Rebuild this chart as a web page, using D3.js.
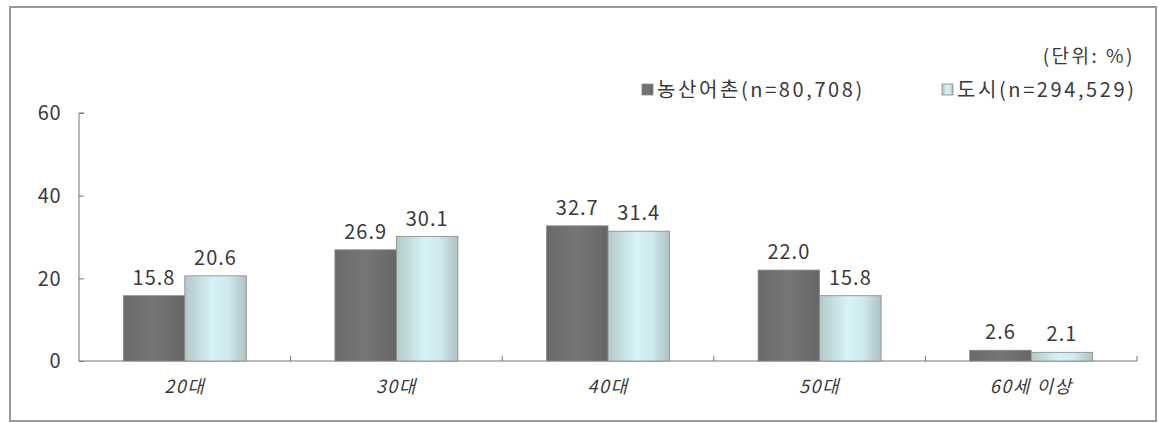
<!DOCTYPE html>
<html><head><meta charset="utf-8">
<script src="https://cdn.jsdelivr.net/npm/d3@7"></script>
<style>body{margin:0;background:#fff}text{font-family:"Noto Sans CJK KR","Noto Sans",sans-serif}</style>
</head><body><svg id="c" width="1159" height="423"></svg>
<script>
const categories = ["20대","30대","40대","50대","60세 이상"];
const rural = [15.8,26.9,32.7,22.0,2.6];
const urban = [20.6,30.1,31.4,15.8,2.1];
const seriesNames = ["농산어촌(n=80,708)","도시(n=294,529)"];
const yTicks = [0,20,40,60];

const svg = d3.select("#c");
const defs = svg.append("defs");
const g1 = defs.append("linearGradient").attr("id","gl");
[[0,"#b4c8c8"],[0.45,"#d6f3f8"],[0.7,"#cfeaef"],[1,"#aec2c2"]].forEach(s=>g1.append("stop").attr("offset",s[0]).attr("stop-color",s[1]));
const g2 = defs.append("linearGradient").attr("id","gd");
[[0,"#6a6a6a"],[0.5,"#767676"],[1,"#666"]].forEach(s=>g2.append("stop").attr("offset",s[0]).attr("stop-color",s[1]));

svg.append("rect").attr("x",10).attr("y",7).attr("width",1146).attr("height",414)
  .attr("fill","none").attr("stroke","#999").attr("stroke-width",2);

const x0 = 79, x1 = 1137, yb = 361, yt = 113;
const x = d3.scaleBand().domain(categories).range([x0,x1]).paddingInner(0).paddingOuter(0);
const y = d3.scaleLinear().domain([0,60]).range([yb,yt]);
const bw = 61.5;
const tc = "#3a3a3a";

// axes
const ya = svg.append("g").attr("transform",`translate(${x0},0)`)
  .call(d3.axisRight(y).tickValues(yTicks).tickSize(5).tickFormat(""));
ya.select(".domain").attr("stroke","#777").attr("d",`M5,${yt}H0V${yb}`);
ya.selectAll("line").attr("stroke","#777");
svg.append("g").selectAll("text").data(yTicks).join("text")
  .attr("x",61).attr("y",d=>y(d)).attr("dy","0.36em").attr("text-anchor","end")
  .attr("font-size",20).attr("letter-spacing",0.5).attr("fill",tc).text(d=>d);

const xa = svg.append("g").attr("transform",`translate(0,${yb})`)
  .call(d3.axisTop(x).tickSize(0).tickFormat(""));
xa.select(".domain").attr("stroke","#777").attr("d",`M${x0},0H${x1}V-5`);
svg.append("g").selectAll("line").data(categories.slice(1)).join("line")
  .attr("x1",d=>x(d)).attr("x2",d=>x(d)).attr("y1",yb).attr("y2",yb-5).attr("stroke","#777");

const grp = svg.append("g");
categories.forEach((c,i)=>{
  const cx = x(c)+x.bandwidth()/2;
  [[rural[i],"url(#gd)",cx-bw],[urban[i],"url(#gl)",cx]].forEach(([v,f,bx])=>{
    grp.append("rect").attr("x",bx).attr("y",y(v)).attr("width",bw).attr("height",yb-y(v))
      .attr("fill",f).attr("stroke","#888").attr("stroke-width",0.8);
    grp.append("text").attr("x",bx+bw/2).attr("y",y(v)-11).attr("text-anchor","middle")
      .attr("font-size",20).attr("letter-spacing",1).attr("fill",tc).text(v.toFixed(1));
  });
  grp.append("text").attr("x",cx).attr("y",393).attr("text-anchor","middle")
    .attr("font-size",18).attr("letter-spacing",1.5).attr("font-style","italic").attr("fill",tc).text(c);
});

// legend
svg.append("text").attr("x",1135).attr("y",63).attr("text-anchor","end")
  .attr("font-size",19).attr("letter-spacing",2.5).attr("fill",tc).text("(단위: %)");
const lg = [[642,"url(#gd)"],[942,"url(#gl)"]];
lg.forEach(([lx,f],i)=>{
  svg.append("rect").attr("x",lx).attr("y",84).attr("width",11).attr("height",11)
    .attr("fill",f).attr("stroke","#888").attr("stroke-width",0.8);
  svg.append("text").attr("x",lx+15).attr("y",97).attr("font-size",20).attr("letter-spacing",2.6)
    .attr("fill",tc).text(seriesNames[i]);
});
</script></body></html>
